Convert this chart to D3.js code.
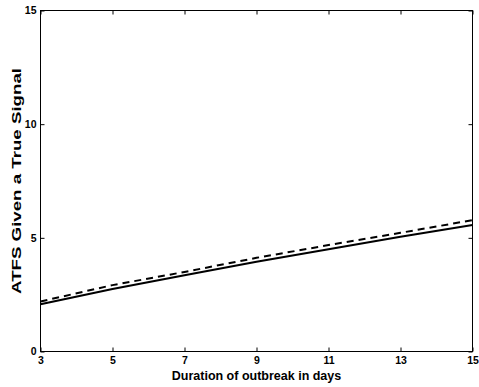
<!DOCTYPE html>
<html><head><meta charset="utf-8">
<script src="https://cdn.jsdelivr.net/npm/d3@7"></script>
<style>body{margin:0;background:#fff;} text{font-family:"Liberation Sans",Arial,sans-serif;font-weight:bold;}</style>
</head><body>
<svg id="c" width="479" height="387"></svg>
<script>
const days = [3, 5, 7, 9, 11, 13, 15];
const solidSeries = [2.08, 2.75, 3.35, 3.95, 4.5, 5.05, 5.56];
const dashedSeries = [2.2, 2.92, 3.5, 4.12, 4.68, 5.22, 5.78];
const xTicks = [3, 5, 7, 9, 11, 13, 15];
const yTicks = [0, 5, 10, 15];

const svg = d3.select("#c");
const L = 40.5, R = 472.5, T = 10.5, B = 351.5;
const x = d3.scaleLinear().domain([3, 15]).range([L, R]);
const y = d3.scaleLinear().domain([0, 15]).range([B, T]);

svg.append("rect").attr("x", L).attr("y", T).attr("width", R - L).attr("height", B - T)
  .attr("fill", "none").attr("stroke", "#000").attr("stroke-width", 1);

const fs = "10.5px";
const xb = svg.append("g").attr("transform", `translate(0,${B})`)
  .call(d3.axisBottom(x).tickValues(xTicks).tickSize(-4).tickPadding(5).tickFormat(d3.format("d")));
const xt = svg.append("g").attr("transform", `translate(0,${T})`)
  .call(d3.axisTop(x).tickValues(xTicks).tickSize(-4).tickFormat(""));
const yl = svg.append("g").attr("transform", `translate(${L},0)`)
  .call(d3.axisLeft(y).tickValues(yTicks).tickSize(-4).tickPadding(4).tickFormat(d3.format("d")));
const yr = svg.append("g").attr("transform", `translate(${R},0)`)
  .call(d3.axisRight(y).tickValues(yTicks).tickSize(-4).tickFormat(""));
[xb, xt, yl, yr].forEach(g => {
  g.select(".domain").remove();
  g.selectAll("text").attr("font-size", fs).attr("font-family", "Liberation Sans, Arial, sans-serif").attr("font-weight", "bold").attr("fill", "#000");
  g.selectAll("line").attr("stroke", "#000");
});

const line = d3.line().x((d, i) => x(days[i])).y(d => y(d));
svg.append("path").datum(solidSeries).attr("d", line).attr("fill", "none")
  .attr("stroke", "#000").attr("stroke-width", 2);
svg.append("path").datum(dashedSeries).attr("d", line).attr("fill", "none")
  .attr("stroke", "#000").attr("stroke-width", 2).attr("stroke-dasharray", "7,5");

svg.append("text").attr("x", 256.5).attr("y", 380).attr("text-anchor", "middle")
  .attr("font-size", "12.5px").text("Duration of outbreak in days");
svg.append("text").attr("transform", `translate(21,${(T + B) / 2}) rotate(-90)`)
  .attr("text-anchor", "middle").attr("font-size", "13px")
  .attr("textLength", 226).attr("lengthAdjust", "spacingAndGlyphs")
  .text("ATFS Given a True Signal");
</script>
</body></html>
